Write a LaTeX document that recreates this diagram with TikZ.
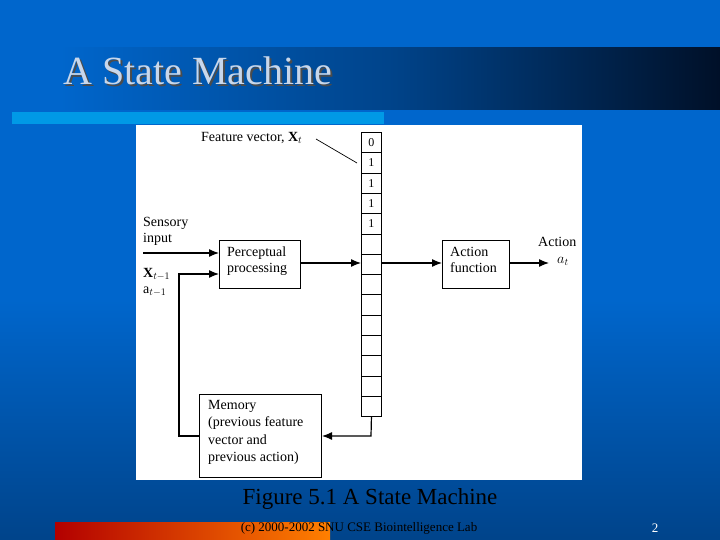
\documentclass[tikz,border=0pt]{standalone}
\usepackage{fontspec}
\setmainfont{Liberation Serif}
\usetikzlibrary{arrows.meta}
\definecolor{bgblue}{RGB}{0,102,204}
\definecolor{navy}{RGB}{0,16,40}
\definecolor{cyanbar}{RGB}{0,153,230}
\definecolor{titlefg}{RGB}{200,215,235}
\begin{document}
\begin{tikzpicture}[x=1pt,y=-1pt,
  box/.style={draw,line width=1pt},
  cell/.style={draw,line width=0.9pt,minimum width=20pt,minimum height=20.3pt,inner sep=0pt,anchor=north west,font=\fontsize{12}{12}\selectfont},
  arr/.style={line width=1.2pt,-{Latex[length=10pt,width=8pt]}},
  lab/.style={font=\fontsize{14}{16}\selectfont,align=left,inner sep=0pt}]
\useasboundingbox (0,0) rectangle (720,540);
\fill[bgblue] (0,0) rectangle (720,540);
\shade[bottom color=bgblue!60!navy,top color=bgblue] (0,300) rectangle (720,540);
\shade[left color=bgblue,right color=navy,middle color=bgblue!60!navy] (60,48) rectangle (720,110);
\fill[bgblue] (0,48) rectangle (60,110);
\fill[cyanbar] (12,112) rectangle (384,124);
\shade[left color=red!70!black,right color=orange] (55,522) rectangle (330,540);
\node[anchor=west,text=titlefg,font=\fontsize{40}{40}\selectfont] (title) at (60,72) {\pgfsetfillcolor{black!70}\rlap{\raisebox{-2pt}{\hspace{2pt}A State Machine}}\pgfsetfillcolor{titlefg}A State Machine};
% figure
\fill[white] (136,125) rectangle (582,480);
\foreach \i/\v in {0/0,1/1,2/1,3/1,4/1,5/,6/,7/,8/,9/,10/,11/,12/,13/}
  \node[cell] (c\i) at (361,{132+\i*20.3}) {\v};
\node[box,minimum width=81pt,minimum height=48pt,anchor=north west] (pp) at (219,240) {};
\node[lab,anchor=north west] at (227,247) {Perceptual\\processing};
\node[box,minimum width=67pt,minimum height=48pt,anchor=north west] (af) at (442,240) {};
\node[lab,anchor=north west] at (450,247) {Action\\function};
\node[box,minimum width=122pt,minimum height=83pt,anchor=north west] (mem) at (199,394) {};
\node[lab,anchor=north west,font=\fontsize{14}{17.5}\selectfont] at (208,400) {Memory\\(previous feature\\vector and\\previous action)};
\node[lab,anchor=west] (fv) at (201,138) {Feature vector, $\mathbf{X}_t$};
\coordinate (fvend) at (357,163);
\draw[line width=0.7pt] (316,139) -- (fvend);
\node[lab,anchor=north west] (si) at (143,217) {Sensory\\input};
\node[lab,anchor=north west] (xt) at (143,268) {$\mathbf{X}_{t-1}$\\a$_{t-1}$};
\node[lab,anchor=north west] (act) at (538,237) {Action};
\node[lab,anchor=north west] (at) at (557,257) {$a_t$};
\coordinate (sistart) at (143,253);
\coordinate (out) at (549,263);
\draw[arr] (sistart) -- (sistart -| pp.west);
\draw[arr] (mem.west) -- (179,436) -- (179,274) -- (219,274);
\draw[arr] (pp.east |- 0,263) -- (361,263);
\draw[arr] (381,263) -- (af.west |- 0,263);
\draw[arr] (af.east |- 0,263) -- (out);
\draw[arr] (c13.south) -- (371,436) -- (mem.east |- 0,436);
% caption
\node[font=\fontsize{23}{23}\selectfont] (cap) at (370,499) {Figure 5.1 A State Machine};
\node[font=\fontsize{13}{13}\selectfont,text=black] (foot) at (359,528) {(c) 2000-2002 SNU CSE Biointelligence Lab};
\node[font=\fontsize{13}{13}\selectfont,text=white] (pg) at (655,528) {2};
\end{tikzpicture}
\end{document}
